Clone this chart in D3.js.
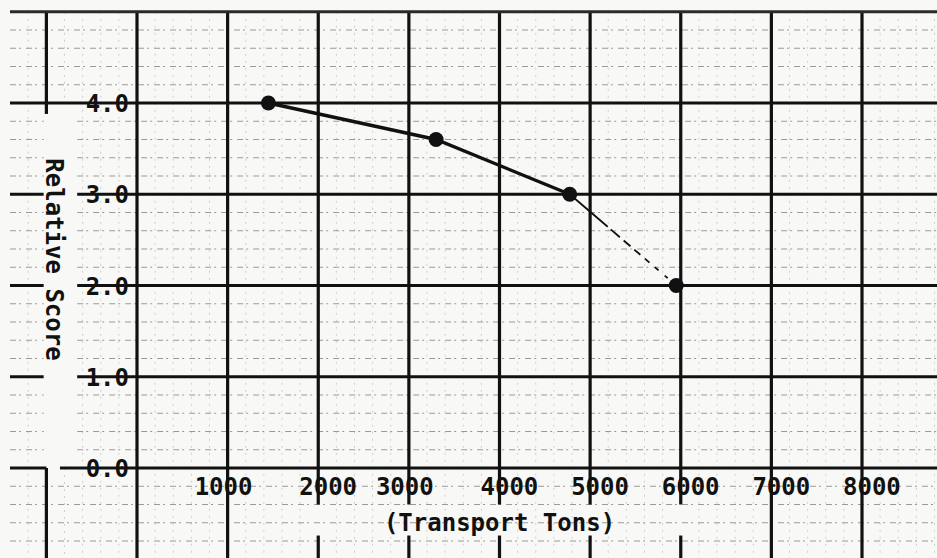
<!DOCTYPE html>
<html>
<head>
<meta charset="utf-8">
<script src="https://cdn.jsdelivr.net/npm/d3@7"></script>
<style>
  body { margin: 0; background: #f8f8f6; }
  svg { display: block; }
  text { font-family: "DejaVu Sans Mono", monospace; font-weight: bold; fill: #111; }
</style>
</head>
<body>
<script>
// values
let transportTons = [1450, 3300, 4775, 5950]
let relativeScore = [4.0, 3.6, 3.0, 2.0]
let xTickValues = [1000, 2000, 3000, 4000, 5000, 6000, 7000, 8000]
let yTickValues = [0, 1, 2, 3, 4]
let yTickLabels = ['0.0', '1.0', '2.0', '3.0', '4.0']
let xTitle = '(Transport Tons)'
let yTitle = 'Relative Score'

function drawChart() {
  let width = 937
  let height = 558

  let svg = d3.select('body').append('svg')
    .attr('width', width)
    .attr('height', height)

  let x = d3.scaleLinear().domain([0, 8000]).range([137, 862])
  let y = d3.scaleLinear().domain([0, 4]).range([468, 103])

  let left = x.invert(10)
  let right = x.invert(width)
  let top = 5
  let bottom = y.invert(height + 2)

  /* graph paper */
  let gMinor = svg.append('g').attr('class', 'minor')
  let gMajor = svg.append('g').attr('class', 'major')

  // minor verticals, every 200 tons
  d3.range(-1200, 8900, 200).filter(v => v % 1000 !== 0).forEach(v => {
    let segs = v === -800 ? [[top, 4], [0, bottom]] : [[top, bottom]]
    segs.forEach(s => {
      gMinor.append('line')
        .attr('x1', x(v)).attr('x2', x(v))
        .attr('y1', y(s[0])).attr('y2', y(s[1]))
        .attr('stroke', '#cfcfcf')
        .attr('stroke-width', 1)
        .attr('stroke-dasharray', '2 5')
    })
  })

  // minor horizontals, every 0.2
  d3.range(-0.8, 5, 0.2).map(v => Math.round(v * 10) / 10)
    .filter(v => Math.abs(v - Math.round(v)) > 0.01)
    .forEach(v => {
      let segs = (v > 0 && v < 4) ? [[left, -1030], [-660, right]] : [[left, right]]
      segs.forEach(s => {
        gMinor.append('line')
          .attr('x1', x(s[0])).attr('x2', x(s[1]))
          .attr('y1', y(v)).attr('y2', y(v))
          .attr('stroke', '#9a9a9a')
          .attr('stroke-width', 1.2)
          .attr('stroke-dasharray', '6 3 2 5')
      })
    })

  // major verticals (pieces of the sheet were cut away)
  d3.range(-1000, 9000, 1000).forEach(v => {
    let segs = [[top, bottom]]
    if (v === -1000) segs = [[top, 3.88], [0, bottom]]
    else if (v >= 2000 && v <= 6000) segs = [[top, -0.4], [-0.74, bottom]]
    segs.forEach(s => {
      gMajor.append('line')
        .attr('x1', x(v)).attr('x2', x(v))
        .attr('y1', y(s[0])).attr('y2', y(s[1]))
        .attr('stroke', '#111')
        .attr('stroke-width', 3.2)
    })
  })

  // major horizontals
  d3.range(0, 6).forEach(v => {
    let segs = [[left, right]]
    if (v >= 1 && v <= 3) segs = [[left, -1030], [-660, right]]
    else if (v === 0) segs = [[left, -1000], [-850, right]]
    segs.forEach(s => {
      gMajor.append('line')
        .attr('x1', x(s[0])).attr('x2', x(s[1]))
        .attr('y1', y(v)).attr('y2', y(v))
        .attr('stroke', v === 5 ? '#2a2a2a' : '#111')
        .attr('stroke-width', 3.2)
    })
  })

  /* tick labels, typed over the lines */
  svg.append('g').selectAll('text')
    .data(yTickValues)
    .enter()
    .append('text')
    .attr('x', x(0) - 8)
    .attr('y', d => y(d) + 9)
    .attr('text-anchor', 'end')
    .style('font-size', '24px')
    .text((d, i) => yTickLabels[i])

  // the typist did not centre every label the same way
  svg.append('g').selectAll('text')
    .data(xTickValues)
    .enter()
    .append('text')
    .attr('x', d => x(d) - ((d === 1000 || d === 3000) ? 33 : 19))
    .attr('y', 495)
    .style('font-size', '24px')
    .text(d => d)

  svg.append('text')
    .attr('x', x(4000))
    .attr('y', 531)
    .attr('text-anchor', 'middle')
    .style('font-size', '24px')
    .text(xTitle)

  svg.append('text')
    .attr('transform', 'translate(46,' + ((y(0) + y(4)) / 2 - 26) + ') rotate(90)')
    .attr('text-anchor', 'middle')
    .style('font-size', '24px')
    .text(yTitle)

  /* the curve */
  let pts = transportTons.map((t, i) => [x(t), y(relativeScore[i])])
  let line = d3.line()

  svg.append('path')
    .attr('d', line(pts.slice(0, 3)))
    .attr('fill', 'none')
    .attr('stroke', '#111')
    .attr('stroke-width', 3.4)

  // last leg was extrapolated, drawn thin then dashed
  svg.append('path')
    .attr('d', line(pts.slice(2)))
    .attr('fill', 'none')
    .attr('stroke', '#111')
    .attr('stroke-width', 1.8)
    .attr('stroke-dasharray', '50 4 12 5 9 5 8 6 6 7 5 8 4 40')

  svg.append('g').selectAll('circle')
    .data(pts)
    .enter()
    .append('circle')
    .attr('cx', d => d[0])
    .attr('cy', d => d[1])
    .attr('r', 7.5)
    .attr('fill', '#111')
}

drawChart()
</script>
</body>
</html>
